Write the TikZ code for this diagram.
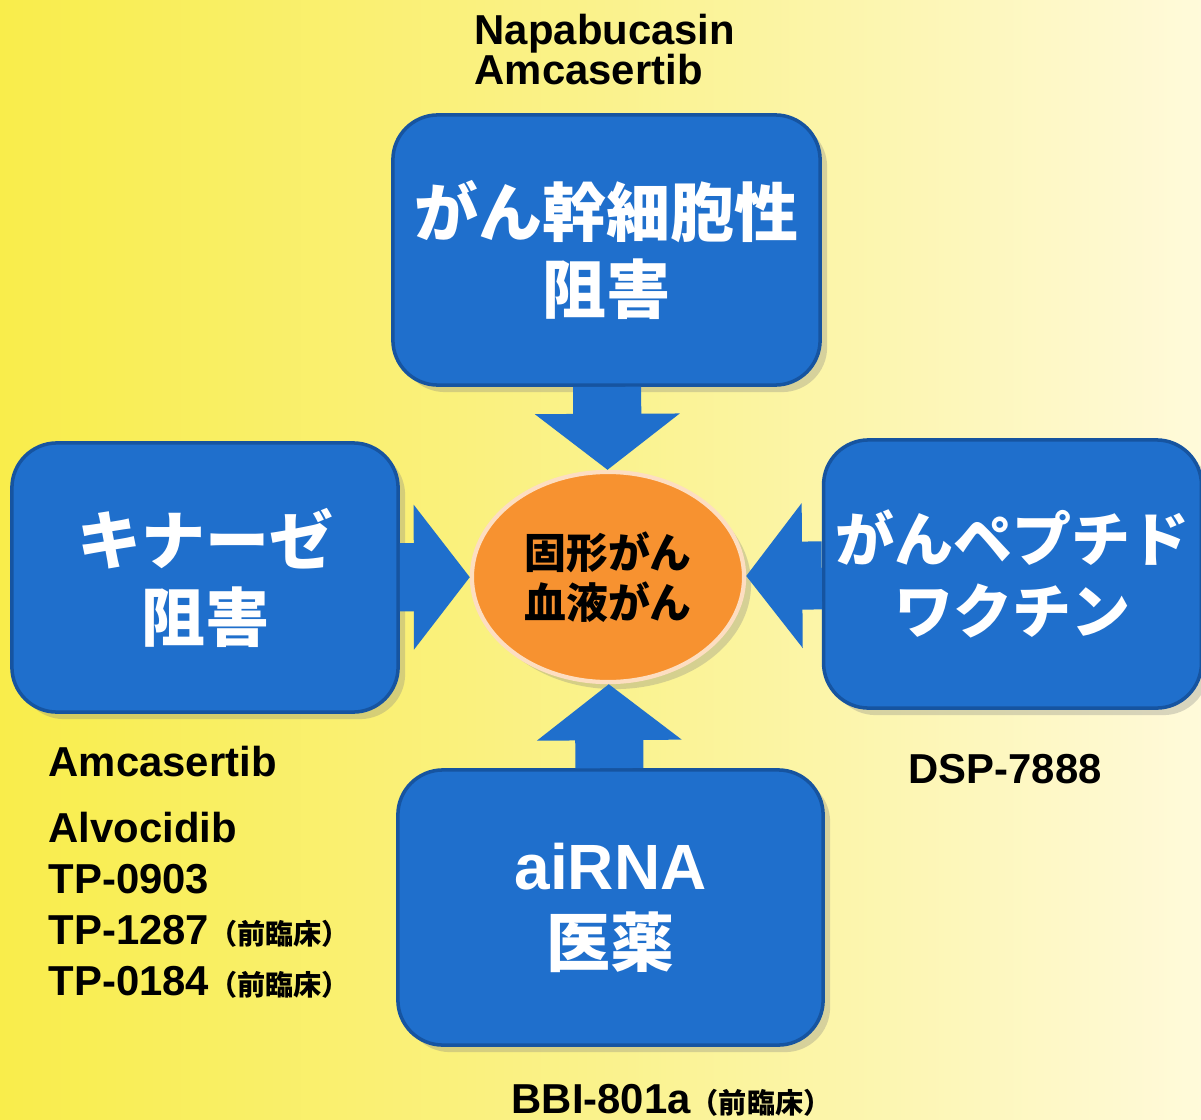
\documentclass[tikz,border=0pt]{standalone}
\usepackage{fontspec}
\setmainfont{Liberation Sans}
\newfontfamily\jp{Noto Sans CJK JP}
\usetikzlibrary{arrows.meta,shapes.geometric,shadows}
\definecolor{boxblue}{RGB}{31,111,204}
\definecolor{rimblue}{RGB}{22,84,160}
\definecolor{ballorange}{RGB}{247,146,48}
\definecolor{bgleft}{RGB}{249,237,75}
\definecolor{bgmid}{RGB}{250,242,140}
\definecolor{bgright}{RGB}{255,250,218}
\tikzset{
  box/.style={draw=rimblue, line width=1pt, fill=boxblue, rounded corners=0.45cm,
    text=white, align=center, font=\jp\bfseries\fontsize{18.2}{21.9}\selectfont,
    drop shadow={shadow xshift=2pt, shadow yshift=-2pt, opacity=0.3}},
  ball/.style={ellipse, draw=white!70!ballorange, line width=1.2pt, fill=ballorange,
    minimum width=2.72cm, minimum height=2.1cm, inner sep=0pt, align=center,
    font=\jp\bfseries\fontsize{11.9}{14.2}\selectfont,
    drop shadow={shadow xshift=2pt, shadow yshift=-2pt, opacity=0.3}},
  lbl/.style={anchor=west, align=left, inner sep=0pt},
  blockarrow/.style={draw=boxblue, line width=0.68cm,
    -{Triangle[length=0.56cm, width=1.42cm]}},
}
\begin{document}
\begin{tikzpicture}
    \def\x{0.01}
    \def\y{-0.01}
    \fill[left color=bgleft, right color=bgright, middle color=bgmid]
      (0,0) rectangle (1201*\x, 1119*\y);
    \useasboundingbox (0,0) rectangle (1201*\x, 1119*\y);
    \node (A0_1) at (606.5*\x, 250*\y) [box, minimum width=4.27cm, minimum height=2.7cm] {がん幹細胞性\\阻害};
    \node (A1_0) at (205*\x, 577.5*\y) [box, minimum width=3.86cm, minimum height=2.69cm] {キナーゼ\\阻害};
    \node (A1_1) at (608*\x, 577*\y) [ball] {固形がん\\血液がん};
    \node (A1_2) at (1012.5*\x, 574*\y) [box, minimum width=3.75cm, minimum height=2.68cm,
      font=\jp\bfseries\fontsize{16.8}{20.5}\selectfont] {がんペプチド\\ワクチン};
    \node (A2_1) at (610.5*\x, 907.5*\y) [box, minimum width=4.25cm, minimum height=2.75cm] {{\rmfamily aiRNA}\\医薬};
    \path (A0_1) edge [blockarrow] (A1_1);
    \path (A1_0) edge [blockarrow] (A1_1);
    \path (A1_2) edge [blockarrow] (A1_1);
    \path (A2_1) edge [blockarrow] (A1_1);
    \node (L0_1) at (474*\x, 50*\y) [lbl, font=\bfseries\fontsize{11.9}{11.4}\selectfont] {Napabucasin\\Amcasertib};
    \node (L1_0) at (48*\x, 762*\y) [lbl, font=\bfseries\fontsize{11.9}{14.5}\selectfont] {Amcasertib};
    \node (L2_0) at (48*\x, 905.5*\y) [lbl, font=\bfseries\fontsize{11.9}{14.5}\selectfont]
      {Alvocidib\\TP-0903\\TP-1287{\jp\fontsize{8}{8}\selectfont （前臨床）}\\TP-0184{\jp\fontsize{8}{8}\selectfont （前臨床）}};
    \node (L1_2) at (908*\x, 769*\y) [lbl, font=\bfseries\fontsize{11.9}{14.5}\selectfont] {DSP-7888};
    \node (L3_1) at (511*\x, 1100*\y) [lbl, font=\bfseries\fontsize{11.9}{14.5}\selectfont]
      {BBI-801a{\jp\fontsize{8}{8}\selectfont （前臨床）}};
  \end{tikzpicture}
\end{document}
